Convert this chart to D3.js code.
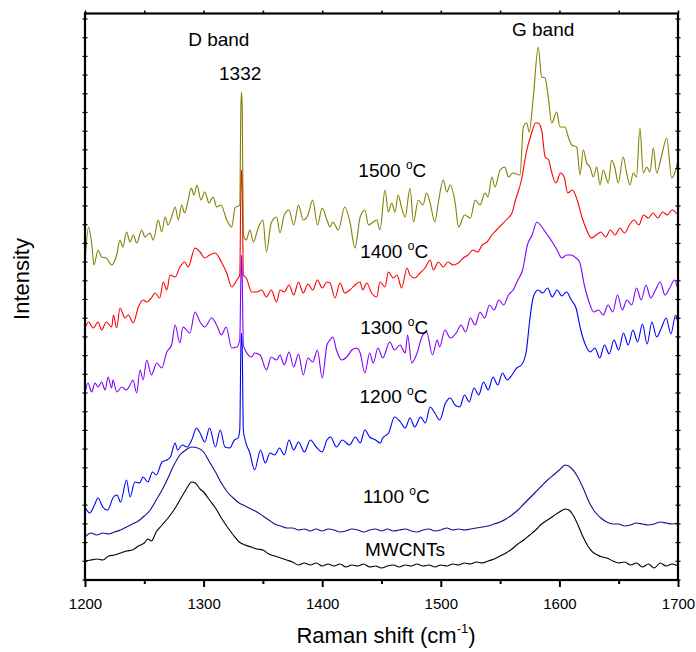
<!DOCTYPE html>
<html>
<head>
<meta charset="utf-8">
<script src="https://cdn.jsdelivr.net/npm/d3@7/dist/d3.min.js"></script>
<style>
  body { margin: 0; background: #fff; }
  svg text { font-family: "Liberation Sans", Arial, sans-serif; fill: #000; }
</style>
</head>
<body>
<div id="chart"></div>
<script>
// Raman spectra, intensity in arbitrary units (stacked traces)
const xTicks = [1200, 1300, 1400, 1500, 1600, 1700];
const xMinorTicks = [1250, 1350, 1450, 1550, 1650];
const seriesNames = ['MWCNTs', '1100', '1200', '1300', '1400', '1500'];

const mwcnts = [[1200,19],[1205,20],[1210,21],[1215,20],[1220,24],[1225,25],[1230,27],[1235,29],[1240,30],[1245,34],[1250,37],[1253,41],[1256,39],[1260,48],[1265,55],[1270,62],[1275,70],[1280,80],[1285,90],[1290,98],[1293,97],[1297,91],[1300,88],[1305,80],[1310,72],[1315,62],[1320,53],[1325,45],[1330,38],[1335,35],[1340,33],[1345,31],[1350,30],[1355,26],[1360,24],[1365,22],[1370,20],[1375,18],[1380,15],[1385,17],[1390,15],[1395,17],[1400,14],[1405,16],[1410,14],[1415,16],[1420,13],[1425,15],[1430,14],[1435,16],[1440,13],[1445,14],[1450,12],[1455,14],[1460,15],[1465,13],[1470,15],[1475,14],[1480,16],[1485,14],[1490,15],[1495,13],[1500,15],[1505,14],[1510,16],[1515,15],[1520,17],[1525,16],[1530,18],[1535,17],[1540,19],[1545,21],[1550,24],[1555,27],[1560,31],[1565,36],[1570,40],[1575,45],[1580,50],[1585,56],[1590,60],[1595,64],[1600,68],[1605,71],[1608,70],[1612,64],[1616,54],[1620,43],[1624,34],[1628,28],[1632,25],[1636,23],[1640,22],[1645,19],[1650,17],[1655,18],[1660,15],[1665,17],[1670,13],[1675,16],[1680,12],[1685,17],[1690,14],[1695,16],[1700,14]];

const t1100 = [[1200,43],[1205,47],[1210,45],[1215,47],[1220,46],[1225,48],[1230,50],[1235,53],[1240,56],[1245,59],[1250,64],[1255,70],[1260,80],[1265,90],[1270,102],[1275,115],[1280,125],[1285,130],[1290,133],[1295,132],[1300,128],[1305,118],[1310,108],[1315,97],[1320,88],[1325,82],[1330,77],[1335,74],[1340,71],[1345,68],[1350,64],[1355,60],[1360,56],[1365,54],[1370,52],[1375,52],[1380,50],[1385,51],[1390,49],[1395,51],[1400,49],[1405,51],[1410,50],[1415,48],[1420,49],[1425,51],[1430,50],[1435,48],[1440,50],[1445,51],[1450,49],[1455,51],[1460,49],[1465,50],[1470,51],[1475,49],[1480,48],[1485,50],[1490,51],[1495,49],[1500,50],[1505,52],[1510,50],[1515,51],[1520,50],[1525,51],[1530,52],[1535,53],[1540,54],[1545,56],[1550,58],[1555,61],[1560,65],[1565,70],[1570,76],[1575,82],[1580,88],[1585,94],[1590,100],[1595,105],[1600,110],[1605,115],[1610,112],[1615,104],[1620,92],[1625,78],[1630,68],[1635,62],[1640,58],[1645,56],[1650,56],[1655,54],[1660,55],[1665,57],[1670,56],[1675,55],[1680,56],[1685,58],[1690,57],[1695,56],[1700,57]];

const t1200 = [[1200,73],[1204,67],[1208,75],[1211,82],[1215,73],[1219,70],[1224,83],[1227,85],[1230,78],[1235,100],[1238,83],[1242,98],[1246,97],[1249,103],[1253,98],[1257,108],[1260,105],[1265,118],[1269,120],[1272,123],[1276,137],[1278,130],[1282,135],[1286,133],[1290,140],[1294,152],[1297,147],[1301,138],[1305,152],[1310,133],[1314,150],[1318,133],[1322,132],[1326,140],[1329,142],[1330.5,150],[1331.4,230],[1332,247],[1332.6,230],[1333.5,150],[1335,140],[1339,127],[1343,110],[1348,130],[1352,117],[1356,127],[1360,125],[1364,132],[1368,125],[1372,140],[1376,130],[1380,138],[1385,128],[1390,140],[1395,133],[1400,128],[1404,140],[1407,143],[1412,133],[1417,140],[1423,135],[1428,143],[1432,137],[1436,150],[1440,143],[1445,140],[1449,137],[1451,142],[1456,147],[1461,163],[1466,158],[1470,152],[1474,162],[1478,153],[1483,163],[1487,157],[1491,173],[1495,167],[1499,160],[1504,177],[1508,182],[1512,175],[1516,173],[1520,185],[1524,178],[1528,192],[1532,185],[1536,198],[1540,190],[1544,203],[1548,195],[1552,207],[1556,200],[1560,205],[1564,212],[1568,215],[1572,228],[1575,260],[1578,283],[1582,290],[1586,287],[1590,292],[1594,283],[1598,290],[1602,284],[1606,288],[1610,280],[1614,272],[1618,250],[1622,235],[1626,228],[1630,232],[1634,222],[1638,235],[1642,226],[1646,240],[1650,230],[1654,247],[1658,235],[1662,250],[1666,238],[1670,256],[1674,236],[1678,258],[1682,243],[1686,252],[1690,262],[1694,246],[1698,265],[1700,256]];

const t1300 = [[1200,187],[1202.5,197],[1205.6,188],[1208.4,197],[1211,193],[1214,198],[1217,190],[1219.4,203],[1222.5,192],[1223.6,200],[1226.7,188],[1231,193],[1235,190],[1238,195],[1240.5,200],[1243.6,187],[1246.4,210],[1249,200],[1252,220],[1256,205],[1260.5,217],[1264.7,212],[1269,228],[1273,235],[1276,255],[1280,237],[1282.6,253],[1288.5,247],[1292.7,268],[1297,258],[1301,253],[1306.8,262],[1311,255],[1315,245],[1319,253],[1323.7,232],[1328,233],[1330.5,240],[1331.4,300],[1332,325],[1332.6,300],[1333.5,235],[1336,228],[1340.5,223],[1343,227],[1347.6,225],[1353,210],[1357,223],[1361.6,220],[1364.4,225],[1368,215],[1372,228],[1376,213],[1380,226],[1384,205],[1388,222],[1392,218],[1396,230],[1400,202],[1404,235],[1406.6,240],[1409,243],[1412,230],[1416.4,220],[1420.7,223],[1425,230],[1429,232],[1432,227],[1436,207],[1440,227],[1443,217],[1447,232],[1451,222],[1457,238],[1461,230],[1465.6,235],[1470,227],[1472,245],[1475.5,217],[1480,227],[1484,243],[1488,248],[1493,225],[1497,240],[1499,233],[1503.5,250],[1508,242],[1513,247],[1517,255],[1521,248],[1525,262],[1529,255],[1533,268],[1537,262],[1541,275],[1545,270],[1549,280],[1553,275],[1557,285],[1561,290],[1565,300],[1569,310],[1573,335],[1577,345],[1581,358],[1584,355],[1587,350],[1590,345],[1594,338],[1598,330],[1602,322],[1606,325],[1610,325],[1614,322],[1617,318],[1621,295],[1625,278],[1629,268],[1633,270],[1637,265],[1641,275],[1645,268],[1649,285],[1653,270],[1657,280],[1661,275],[1665,292],[1669,280],[1673,295],[1677,282],[1681,290],[1685,298],[1689,285],[1693,292],[1697,300],[1700,290]];

const t1400 = [[1200,252],[1203,258],[1207,252],[1211,258],[1214,250],[1218,258],[1222.5,253],[1224,265],[1226.7,252],[1229.5,272],[1233.7,262],[1236.5,265],[1240.7,257],[1245,273],[1249,280],[1252,278],[1256,282],[1259,287],[1263,282],[1266,298],[1269,290],[1271.7,305],[1276,303],[1280,313],[1284,318],[1287,313],[1292.7,332],[1297,328],[1301,322],[1305,325],[1309.6,327],[1315,318],[1319.5,307],[1323.7,293],[1328,300],[1330.5,305],[1331.4,390],[1332,410],[1332.6,390],[1333.5,305],[1336,302],[1340.5,288],[1344.8,288],[1349,290],[1353,283],[1357,290],[1361.6,278],[1364.4,290],[1368,288],[1372,295],[1376,285],[1380,298],[1384,287],[1388,296],[1392,290],[1396,300],[1400,292],[1404,298],[1406.6,297],[1410.8,282],[1415,297],[1419,287],[1423.4,290],[1427.6,295],[1432,298],[1434,290],[1437.5,297],[1441.7,287],[1446,283],[1448.7,298],[1453,293],[1455.7,308],[1460,302],[1463,305],[1467,292],[1471.5,312],[1474,305],[1478,302],[1482.5,307],[1486.7,312],[1491,320],[1493.7,310],[1498,318],[1502,313],[1506,318],[1510.5,315],[1514.7,317],[1519,322],[1523,325],[1527,330],[1531,328],[1535,335],[1539,338],[1543,345],[1547,350],[1551,355],[1555,360],[1560,367],[1563,380],[1568,400],[1572,427],[1576,445],[1580,457],[1582,457],[1585,450],[1588,423],[1591,420],[1593,410],[1597,397],[1601,407],[1604,403],[1607,387],[1611,390],[1615,380],[1619,363],[1623,350],[1627,342],[1631,345],[1635,348],[1639,343],[1643,350],[1647,345],[1651,352],[1655,347],[1659,355],[1663,360],[1667,355],[1671,365],[1675,362],[1679,367],[1683,362],[1687,368],[1691,365],[1695,370],[1700,365]];

const t1500 = [[1200,317],[1203,353],[1205.6,337],[1207.6,315],[1211,330],[1214,323],[1218,322],[1222.5,315],[1226.7,325],[1229.5,340],[1232,333],[1235,348],[1238,338],[1240.7,345],[1243.6,337],[1247.8,350],[1250.6,343],[1254.8,347],[1257.6,340],[1261.8,360],[1264.7,348],[1267.5,363],[1270,355],[1273,363],[1276,373],[1278.7,360],[1281.5,375],[1284,367],[1287,380],[1289.5,392],[1292,385],[1294.4,395],[1297.8,380],[1301,388],[1304.6,377],[1308,383],[1311,373],[1314.7,375],[1319.5,360],[1323.7,353],[1326.5,372],[1330.5,375],[1331.4,470],[1332,488],[1332.6,470],[1333.5,345],[1336,340],[1339,350],[1342,338],[1346,352],[1350,360],[1353,328],[1357,357],[1361.6,363],[1364.4,347],[1368,365],[1372,370],[1376,355],[1380,375],[1384,360],[1388,365],[1392,380],[1396,355],[1400,372],[1404,360],[1406.6,353],[1409,358],[1413.6,350],[1419,373],[1423.4,358],[1427.6,332],[1432,363],[1436,370],[1439,355],[1443,358],[1446,360],[1448.7,350],[1453,390],[1455.7,368],[1458.6,377],[1461.4,368],[1464,385],[1467,372],[1470,363],[1474,392],[1477,358],[1481,380],[1485,375],[1488,387],[1491,377],[1495,358],[1498,378],[1502,400],[1505,388],[1508,395],[1512,378],[1515,353],[1520,365],[1525,362],[1529,380],[1533,375],[1537.3,387],[1539.8,383],[1543,403],[1545.7,393],[1550,410],[1554,413],[1557,403],[1561,407],[1566.8,405],[1569.6,453],[1572.4,457],[1574.6,448],[1578,483],[1582.2,533],[1585,503],[1587.9,502],[1590.6,483],[1593.5,457],[1597.7,468],[1600.5,453],[1604.7,453],[1607.5,443],[1610.4,435],[1614.6,433],[1617.4,405],[1620.2,430],[1623,417],[1625.8,413],[1628.6,403],[1631.5,413],[1634.2,395],[1637,410],[1641.2,397],[1644,420],[1646.8,412],[1649.6,397],[1653.8,423],[1656.7,407],[1659.5,395],[1662.3,407],[1665,403],[1667.9,452],[1670.7,407],[1673.6,413],[1676.4,408],[1679.2,432],[1682,407],[1686.3,425],[1690.5,442],[1694.7,402],[1697.5,408],[1700,420]];

// annotation anchors in data coordinates (wavenumber, intensity)
const notes = [
  { text: 'D band', w: 1287, i: 534 },
  { text: '1332', w: 1313, i: 500 },
  { text: 'G band', w: 1560, i: 544 },
  { text: '1500', deg: true, w: 1430.5, i: 403 },
  { text: '1400', deg: true, w: 1432, i: 322 },
  { text: '1300', deg: true, w: 1432, i: 246 },
  { text: '1200', deg: true, w: 1431.5, i: 177 },
  { text: '1100', deg: true, w: 1434.5, i: 77 },
  { text: 'MWCNTs', w: 1436, i: 24 },
];

function chart(selection) {
  selection.each(function (data) {
    const margin = { top: 13.5, right: 18, bottom: 72, left: 85 };
    const width = 696 - margin.left - margin.right;
    const height = 652 - margin.top - margin.bottom;

    const x = d3.scaleLinear().domain([1200, 1700]).range([0, width]);
    const y = d3.scaleLinear().domain([0, 566.5]).range([height, 0]);

    const svg = d3.select(this).append('svg')
      .attr('width', 696)
      .attr('height', 652);
    const g = svg.append('g')
      .attr('transform', 'translate(' + margin.left + ',' + margin.top + ')');

    // monotone keeps the wiggles rounded without overshooting the sharp 1332 line
    const line = d3.line()
      .curve(d3.curveMonotoneX)
      .x(d => x(d[0]))
      .y(d => y(d[1]));

    g.selectAll('path.trace')
      .data(data)
      .enter().append('path')
      .attr('class', 'trace')
      .attr('fill', 'none')
      .attr('stroke', d => d.color)
      .attr('stroke-width', 1.1)
      .attr('stroke-linejoin', 'round')
      .attr('d', d => line(d.values));

    // bottom axis with labels + minor ticks
    const bottom = g.append('g')
      .attr('transform', 'translate(0,' + height + ')')
      .call(d3.axisBottom(x).tickValues(xTicks).tickSize(7).tickPadding(11).tickFormat(d3.format('d')));
    bottom.select('.domain').remove();
    bottom.selectAll('line').attr('stroke-width', 2);
    bottom.selectAll('text').attr('font-size', 15).style('font-family', '"Liberation Sans", Arial, sans-serif');
    const bottomMinor = g.append('g')
      .attr('transform', 'translate(0,' + height + ')')
      .call(d3.axisBottom(x).tickValues(xMinorTicks).tickSize(4).tickFormat(''));
    bottomMinor.select('.domain').remove();
    bottomMinor.selectAll('line').attr('stroke-width', 2);

    // top axis, ticks only
    const top = g.append('g')
      .call(d3.axisTop(x).tickValues(xTicks.concat(xMinorTicks)).tickSize(3).tickFormat(''));
    top.select('.domain').remove();
    top.selectAll('line').attr('stroke-width', 1.5);

    // left / right small ticks
    const yTicks = d3.range(0, 566, 18.7);
    [0, width].forEach(xx => {
      g.append('g').selectAll('line')
        .data(yTicks)
        .enter().append('line')
        .attr('x1', xx - 2.5).attr('x2', xx + 2.5)
        .attr('y1', d => y(d)).attr('y2', d => y(d))
        .attr('stroke', '#000')
        .attr('stroke-width', 1.2);
    });

    // frame
    g.append('rect')
      .attr('width', width)
      .attr('height', height)
      .attr('fill', 'none')
      .attr('stroke', '#000')
      .attr('stroke-width', 2.2);

    // annotations
    const ann = g.selectAll('text.note')
      .data(notes)
      .enter().append('text')
      .attr('class', 'note')
      .attr('x', d => x(d.w))
      .attr('y', d => y(d.i))
      .attr('font-size', 19);
    ann.append('tspan').text(d => d.deg ? d.text + ' ' : d.text);
    ann.filter(d => d.deg).append('tspan')
      .attr('font-size', 12).attr('dy', -8).text('o');
    ann.filter(d => d.deg).append('tspan')
      .attr('dy', 8).text('C');

    // axis titles
    const xt = svg.append('text')
      .attr('x', 386)
      .attr('y', 643)
      .attr('text-anchor', 'middle')
      .attr('font-size', 22);
    xt.append('tspan').text('Raman shift (cm');
    xt.append('tspan').attr('font-size', 13).attr('dy', -10).text('-1');
    xt.append('tspan').attr('dy', 10).text(')');

    svg.append('text')
      .attr('transform', 'translate(29,279) rotate(-90)')
      .attr('text-anchor', 'middle')
      .attr('font-size', 22)
      .text('Intensity');
  });
}

const colors = ['#000000', '#12128e', '#0000ff', '#8000ff', '#ff0000', '#808000'];
const traces = [mwcnts, t1100, t1200, t1300, t1400, t1500];
const series = seriesNames.map((name, k) => ({ name: name, color: colors[k], values: traces[k] }));

d3.select('#chart').datum(series).call(chart);
</script>
</body>
</html>
